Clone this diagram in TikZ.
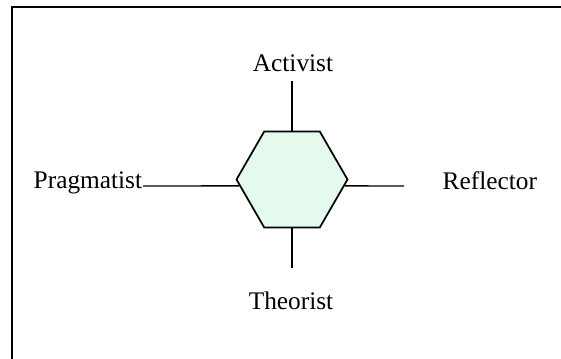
\documentclass[tikz,border=0pt]{standalone}
\usepackage{fontspec}
\setmainfont{Liberation Serif}
\usetikzlibrary{shapes.geometric}
\definecolor{hexfill}{RGB}{228,250,236}

\begin{document}
\begin{tikzpicture}[x=0.75pt,y=-0.75pt,line width=1.1pt,
    hex node/.style={regular polygon,regular polygon sides=6,draw,fill=hexfill,minimum size=83.25pt,inner sep=0pt,line width=1.3pt},
    style node/.style={font=\fontsize{19}{22}\selectfont,inner sep=0pt}]

        \useasboundingbox (0,0) rectangle (561,359);
        \begin{scope}
            \clip (0,0) rectangle (561,359);
            \draw[line width=1.4pt] (12,7) rectangle (590,390);
        \end{scope}

        \node[hex node] (hex) at (292,179.5) {};

        \node[style node, anchor=base] (act) at (293,71.7) {Activist};
        \node[style node, anchor=base] (theo) at (291,310) {Theorist};
        \node[style node, anchor=base west] (prag) at (33,189) {Pragmatist};
        \node[style node, anchor=base west] (refl) at (442,190) {Reflector};

        \coordinate (act end) at (292,81);
        \coordinate (theo end) at (292,268);
        \coordinate (prag end) at (143,186);
        \coordinate (refl end) at (404,186);

        \draw (hex.north) -- (act end);
        \draw (hex.south) -- (theo end);
        \draw (hex.187) -- (prag end);
        \draw (hex.353) -- (refl end);
    \end{tikzpicture}
\end{document}
